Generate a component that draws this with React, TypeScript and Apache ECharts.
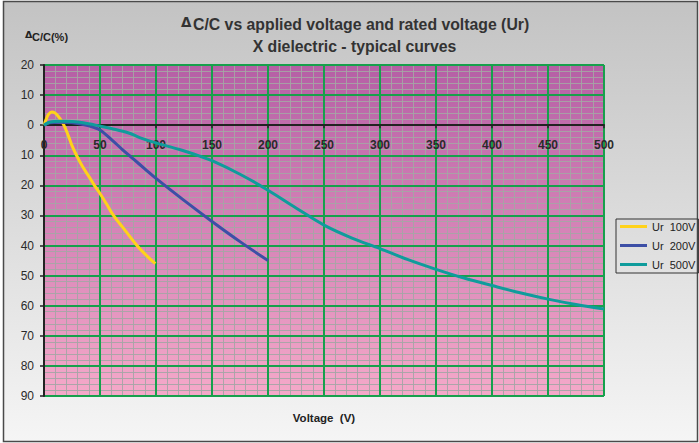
import React, { useEffect, useRef } from "react";
import * as echarts from "echarts";

// ---- data ----
const SERIES_NAMES = ["Ur  100V", "Ur  200V", "Ur  500V"];

const V100 = [0, 2, 4, 7, 10, 13, 16, 19, 22, 25, 29, 34, 40, 45, 50, 56, 62, 70, 83, 92, 99.4];
const C100 = [0, 2, 3.6, 4.4, 4.0, 2.8, 1.2, -1, -3.8, -6.8, -10, -13.5, -17, -20, -22.7, -26.3, -30, -33.8, -40, -43.5, -46];

const V200 = [0, 5, 15, 25, 35, 45, 50, 60, 70, 80, 90, 100, 125, 150, 175, 200];
const C200 = [0, 0.8, 1.0, 0.8, 0.2, -0.8, -1.6, -4.7, -8.1, -11.3, -14.5, -17.7, -25, -32, -38.7, -45];

const V500 = [0, 5, 15, 25, 35, 50, 60, 75, 86, 100, 121, 139, 150, 175, 200, 225, 250, 275, 300, 325, 350, 375, 400, 425, 450, 475, 500];
const C500 = [0, 1.0, 1.3, 1.2, 0.8, -0.3, -1.1, -2.5, -4.2, -5.9, -8.1, -10.3, -11.8, -16.3, -21.6, -27.5, -33.2, -37.5, -41, -44.7, -47.9, -50.8, -53.3, -55.7, -57.8, -59.6, -61.1];

const X_MIN = 0;
const X_MAX = 500;
const X_INTERVAL = 50;
const Y_MIN = -90;
const Y_MAX = 20;
const Y_INTERVAL = 10;

const TITLE_LINE1 = "C/C vs applied voltage and rated voltage (Ur)";
const TITLE_LINE2 = "X dielectric - typical curves";
const DELTA = "Δ";
const Y_NAME = "C/C(%)";
const X_NAME = "Voltage  (V)";

const COLORS = ["#ffd21a", "#3d4fa6", "#0f9c9c"];
const FONT = "'Liberation Sans', Arial, sans-serif";

const GRID_TOP = 65;
const GRID_BOTTOM = 47;
const CHART_H = 443;

const zip = (xs: number[], ys: number[]) => xs.map((x, i) => [x, ys[i]]);

export default function App() {
  const ref = useRef<HTMLDivElement>(null);

  useEffect(() => {
    const chart = echarts.init(ref.current!, null, { renderer: "svg" });

    const gridH = CHART_H - GRID_TOP - GRID_BOTTOM;
    // move the visible x axis up from the bottom edge to the value 0
    const zeroOffset = -(gridH * (0 - Y_MIN)) / (Y_MAX - Y_MIN);

    const xBase = { type: "value", min: X_MIN, max: X_MAX, interval: X_INTERVAL, position: "bottom", gridIndex: 0 };
    const yBase = { type: "value", min: Y_MIN, max: Y_MAX, interval: Y_INTERVAL, position: "left", gridIndex: 0 };
    const hidden = {
      axisLine: { show: false, onZero: false },
      axisTick: { show: false },
      axisLabel: { show: false },
    };
    const minorLine = { color: "rgba(165,165,165,0.9)", width: 1 };
    const majorLine = { color: "#17a04c", width: 2 };

    const xAxes = [
      { ...xBase, ...hidden, z: 2, splitLine: { show: true, lineStyle: majorLine } },
      {
        ...xBase, ...hidden, z: 1, splitLine: { show: false },
        minorTick: { show: false, splitNumber: 5 },
        minorSplitLine: { show: true, lineStyle: minorLine },
      },
      {
        ...xBase, z: 3,
        offset: zeroOffset,
        axisLine: { show: true, onZero: false, lineStyle: { color: "#222", width: 2 } },
        axisTick: { show: true, length: 3, lineStyle: { color: "#222", width: 1.5 } },
        axisLabel: { show: true, margin: 14, fontSize: 12, fontWeight: "bold", color: "#2a2a2a", fontFamily: FONT },
        splitLine: { show: false },
      },
    ];
    const yAxes = [
      { ...yBase, ...hidden, z: 2, splitLine: { show: true, lineStyle: majorLine } },
      {
        ...yBase, ...hidden, z: 1, splitLine: { show: false },
        minorTick: { show: false, splitNumber: 5 },
        minorSplitLine: { show: true, lineStyle: minorLine },
      },
      {
        ...yBase, z: 3,
        axisLine: { show: true, onZero: false, lineStyle: { color: "#222", width: 2 } },
        axisTick: { show: true, length: 4, lineStyle: { color: "#222", width: 1.5 } },
        axisLabel: {
          show: true, margin: 10, fontSize: 12, color: "#2a2a2a", fontFamily: FONT,
          formatter: (v: number) => String(Math.abs(v)),
        },
        splitLine: { show: false },
      },
    ];

    const datasets = [zip(V100, C100), zip(V200, C200), zip(V500, C500)];

    chart.setOption({
      animation: false,
      backgroundColor: "transparent",
      textStyle: { fontFamily: FONT },
      grid: {
        left: 44, right: 95, top: GRID_TOP, bottom: GRID_BOTTOM,
        show: true,
        backgroundColor: new echarts.graphic.LinearGradient(0, 0, 0, 1, [
          { offset: 0, color: "#b55fa5" },
          { offset: 1, color: "#f5a9c9" },
        ]),
        borderColor: "#5a9a7a",
        borderWidth: 1,
      },
      xAxis: xAxes,
      yAxis: yAxes,
      legend: {
        orient: "vertical",
        left: 616, top: 219,
        itemWidth: 27, itemHeight: 3, itemGap: 8,
        icon: "rect",
        padding: [2, 3, 3, 4],
        borderColor: "#333", borderWidth: 1,
        textStyle: { fontSize: 11, color: "#222", fontFamily: FONT },
        data: SERIES_NAMES,
      },
      series: SERIES_NAMES.map((name, i) => ({
        name,
        type: "line",
        xAxisIndex: 0,
        yAxisIndex: 0,
        data: datasets[i],
        smooth: 0.35,
        symbol: "none",
        showSymbol: false,
        z: 10,
        color: COLORS[i],
        lineStyle: { color: COLORS[i], width: 3 },
      })),
      graphic: [
        {
          type: "rect", z: -10, silent: true,
          shape: { x: 3.5, y: 1.5, width: 694, height: 440 },
          style: {
            fill: new echarts.graphic.LinearGradient(0, 0, 0, 1, [
              { offset: 0, color: "#c3c3c3" },
              { offset: 1, color: "#f5f5f5" },
            ]),
            stroke: "#4a4a4a", lineWidth: 1.5,
          },
        },
        {
          type: "text", z: 100, x: 181, y: 21.7,
          style: { text: DELTA, fontSize: 13.5, fontWeight: "bold", fontFamily: "DejaVu Sans", fill: "#333", align: "left", verticalAlign: "middle" },
        },
        {
          type: "text", z: 100, x: 193, y: 24.2,
          style: { text: TITLE_LINE1, fontSize: 15.8, fontWeight: "bold", fontFamily: FONT, fill: "#333", align: "left", verticalAlign: "middle" },
        },
        {
          type: "text", z: 100, x: 354.5, y: 46.7,
          style: { text: TITLE_LINE2, fontSize: 15.8, fontWeight: "bold", fontFamily: FONT, fill: "#333", align: "center", verticalAlign: "middle" },
        },
        {
          type: "text", z: 100, x: 25, y: 34.7,
          style: { text: DELTA, fontSize: 9.5, fontWeight: "bold", fontFamily: "DejaVu Sans", fill: "#222", align: "left", verticalAlign: "middle" },
        },
        {
          type: "text", z: 100, x: 32, y: 37,
          style: { text: Y_NAME, fontSize: 11, fontWeight: "bold", fontFamily: FONT, fill: "#222", align: "left", verticalAlign: "middle" },
        },
        {
          type: "text", z: 100, x: 324, y: 417.5,
          style: { text: X_NAME, fontSize: 11.5, fontWeight: "bold", fontFamily: FONT, fill: "#222", align: "center", verticalAlign: "middle" },
        },
      ],
    });

    return () => chart.dispose();
  }, []);

  return (
    <div
      ref={ref}
      style={{ position: "fixed", left: 0, top: 0, width: 699, height: 443, background: "#fff" }}
    />
  );
}
